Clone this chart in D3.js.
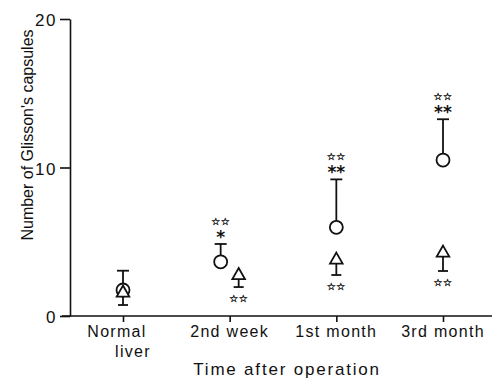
<!DOCTYPE html>
<html>
<head>
<meta charset="utf-8">
<script src="https://cdn.jsdelivr.net/npm/d3@7"></script>
<style>
  body { margin: 0; background: #fff; }
  svg { display: block; }
  text { fill: #111; }
</style>
</head>
<body>
<div id="vis"></div>
<script>
const categories = ["Normal liver", "2nd week", "1st month", "3rd month"];
const yTicks = [0, 10, 20];

// circles: mean and upper error
const circleMean = [1.75, 3.65, 5.97, 10.5];
const circleErr = [1.3, 1.2, 3.23, 2.75];
const circleStars = ["", "☆☆", "☆☆", "☆☆"];
const circleAsterisks = ["", "*", "**", "**"];

// triangles: mean and lower error
const triMean = [1.68, 2.86, 3.9, 4.37];
const triErr = [0.94, 0.91, 1.14, 1.34];
const triStars = ["", "☆☆", "☆☆", "☆☆"];

const xTitle = "Time after operation";
const yTitle = "Number of Glisson's capsules";

const width = 494;
const height = 378;
const black = "#111";

const svg = d3.select("#vis")
    .append("svg")
    .attr("width", width)
    .attr("height", height);

const xScale = d3.scalePoint()
    .domain(categories)
    .range([123, 443]);

const yScale = d3.scaleLinear()
    .domain([0, 20])
    .range([316, 19]);

// 2nd week markers are pulled apart so they don't overlap
const dodge = { "2nd week": 9 };
const off = d => dodge[d.cat] || 0;

const data = categories.map((c, i) => ({
    cat: c,
    cMean: circleMean[i],
    cErr: circleErr[i],
    cStars: circleStars[i],
    cAst: circleAsterisks[i],
    tMean: triMean[i],
    tErr: triErr[i],
    tStars: triStars[i]
}));

// y axis
const yAxis = svg.append("g")
    .attr("transform", `translate(${70}, 0)`)
    .call(d3.axisLeft(yScale).tickValues(yTicks).tickSize(10).tickPadding(3).tickSizeOuter(0));
yAxis.select(".domain").attr("stroke", black).attr("stroke-width", 1.6);
yAxis.selectAll(".tick line").attr("stroke", black).attr("stroke-width", 1.6);
yAxis.selectAll(".tick text")
    .style("font-family", "'Liberation Sans', Arial, sans-serif")
    .style("font-size", "17px")
    .style("letter-spacing", "1.5px")
    .attr("fill", black)
    .attr("dy", "0.4em");

// x axis
const xAxis = svg.append("g")
    .attr("transform", `translate(0, ${yScale(0)})`)
    .call(d3.axisBottom(xScale).tickSize(6).tickFormat(""));
xAxis.select(".domain").remove();
xAxis.selectAll(".tick line").attr("stroke", black).attr("stroke-width", 1.6);
xAxis.append("line")
    .attr("x1", 62)
    .attr("x2", 492)
    .attr("stroke", black)
    .attr("stroke-width", 1.6);

const labelParts = {
    "Normal liver": [{ t: "Normal", dx: -6, y: 337 }, { t: "liver", dx: 10, y: 357 }],
};
svg.selectAll(".cat-label")
    .data(categories)
    .join("text")
        .attr("class", "cat-label")
        .attr("text-anchor", "middle")
        .style("font-family", "'Liberation Sans', Arial, sans-serif")
        .style("font-size", "16px")
        .style("letter-spacing", "1.3px")
        .each(function(d) {
            const parts = labelParts[d] || [{ t: d, dx: 0, y: 337 }];
            d3.select(this).selectAll("tspan")
                .data(parts)
                .join("tspan")
                    .attr("x", xScale(d))
                    .attr("dx", p => p.dx)
                    .attr("y", p => p.y)
                    .text(p => p.t);
        });

svg.append("text")
    .attr("x", 287)
    .attr("y", 375)
    .attr("text-anchor", "middle")
    .style("font-family", "'Liberation Sans', Arial, sans-serif")
    .style("font-size", "17px")
    .style("letter-spacing", "1.8px")
    .text(xTitle);

svg.append("text")
    .attr("transform", `translate(33, 135) rotate(-90)`)
    .attr("text-anchor", "middle")
    .style("font-family", "'Liberation Sans', Arial, sans-serif")
    .style("font-size", "16px")
    .text(yTitle);

// markers
const groups = svg.selectAll(".group")
    .data(data)
    .join("g")
        .attr("class", "group")
        .attr("transform", d => `translate(${xScale(d.cat)}, 0)`);

// circle error bar (upward)
groups.append("line")
    .attr("x1", d => -off(d))
    .attr("x2", d => -off(d))
    .attr("y1", d => yScale(d.cMean))
    .attr("y2", d => yScale(d.cMean + d.cErr))
    .attr("stroke", black)
    .attr("stroke-width", 1.8);
groups.append("line")
    .attr("x1", d => -off(d) - 6)
    .attr("x2", d => -off(d) + 6)
    .attr("y1", d => yScale(d.cMean + d.cErr))
    .attr("y2", d => yScale(d.cMean + d.cErr))
    .attr("stroke", black)
    .attr("stroke-width", 1.8);

// triangle error bar (downward)
groups.append("line")
    .attr("x1", d => off(d))
    .attr("x2", d => off(d))
    .attr("y1", d => yScale(d.tMean))
    .attr("y2", d => yScale(d.tMean - d.tErr))
    .attr("stroke", black)
    .attr("stroke-width", 1.8);
groups.append("line")
    .attr("x1", d => off(d) - 5)
    .attr("x2", d => off(d) + 5)
    .attr("y1", d => yScale(d.tMean - d.tErr))
    .attr("y2", d => yScale(d.tMean - d.tErr))
    .attr("stroke", black)
    .attr("stroke-width", 1.8);

groups.append("circle")
    .attr("cx", d => -off(d))
    .attr("cy", d => yScale(d.cMean))
    .attr("r", 6.5)
    .attr("fill", "#fff")
    .attr("stroke", black)
    .attr("stroke-width", 1.8);

groups.append("path")
    .attr("d", "M0,-5.5L6.3,5.5L-6.3,5.5Z")
    .attr("transform", d => `translate(${off(d)}, ${yScale(d.tMean)})`)
    .attr("fill", "#fff")
    .attr("stroke", black)
    .attr("stroke-width", 1.8);

// significance marks
groups.append("text")
    .attr("x", d => -off(d))
    .attr("y", d => yScale(d.cMean + d.cErr) - 1)
    .attr("text-anchor", "middle")
    .style("font-family", "'DejaVu Sans', sans-serif")
    .style("font-size", "17px")
    .style("font-weight", "bold")
    .text(d => d.cAst);

groups.selectAll(".star")
    .data(d => [
        { x: -off(d), y: yScale(d.cMean + d.cErr) - 19, t: d.cStars },
        { x: off(d), y: yScale(d.tMean - d.tErr) + 15, t: d.tStars }
    ])
    .join("text")
        .attr("class", "star")
        .attr("x", s => s.x)
        .attr("y", s => s.y)
        .attr("text-anchor", "middle")
        .style("font-family", "'DejaVu Sans', sans-serif")
        .style("font-size", "10px")
        .style("letter-spacing", "0.5px")
        .style("stroke", black)
        .style("stroke-width", "0.35px")
        .text(s => s.t);
</script>
</body>
</html>
